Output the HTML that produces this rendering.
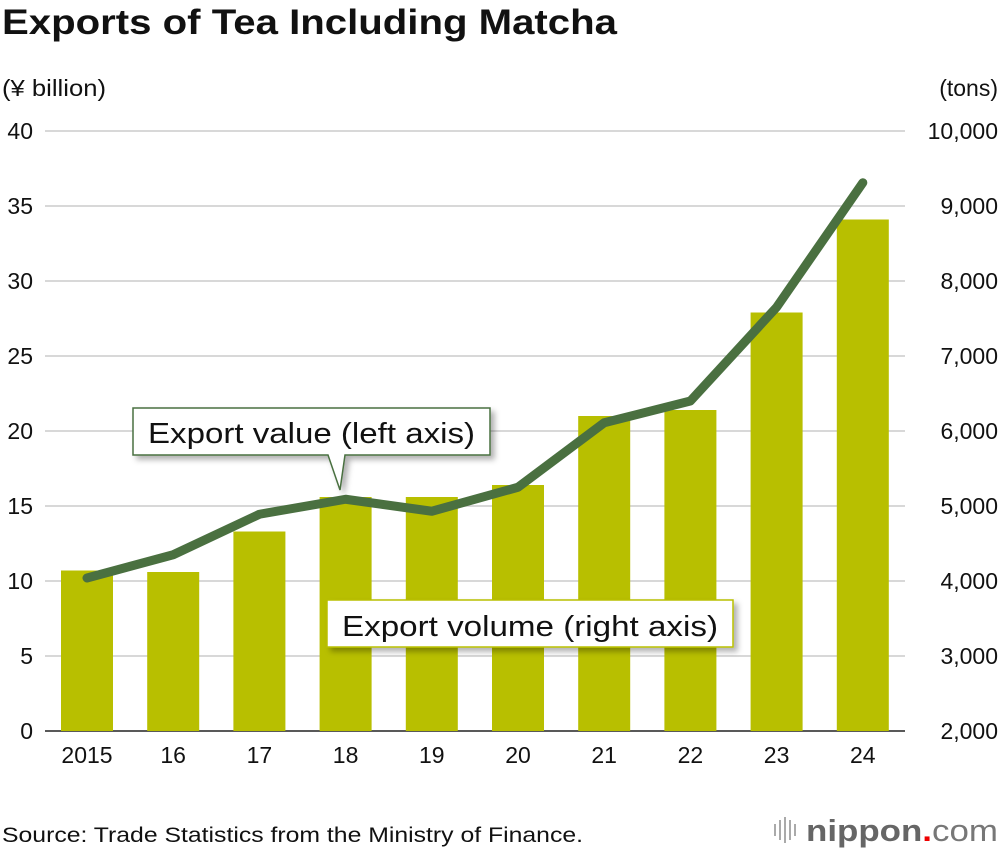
<!DOCTYPE html>
<html><head><meta charset="utf-8"><style>
body{margin:0;background:#fff;width:1000px;height:854px;overflow:hidden;font-family:"Liberation Sans",Arial,sans-serif}
</style></head><body>
<svg id="chart" width="1000" height="854" viewBox="0 0 1000 854" xmlns="http://www.w3.org/2000/svg" font-family="Liberation Sans, Arial, sans-serif">
<defs><filter id="sh" x="-10%" y="-20%" width="130%" height="160%"><feDropShadow dx="4" dy="4" stdDeviation="3" flood-color="#000" flood-opacity="0.3"/></filter></defs>
<text x="2" y="34" font-size="35" font-weight="bold" fill="#111" textLength="615" lengthAdjust="spacingAndGlyphs">Exports of Tea Including Matcha</text>
<text x="2" y="96" font-size="23" fill="#111" textLength="104" lengthAdjust="spacingAndGlyphs">(¥ billion)</text>
<text x="998" y="96" font-size="23" fill="#111" text-anchor="end">(tons)</text>
<g id="grid"></g><g id="bars"></g><g id="line"></g><g id="axes"></g>
<g>
<path d="M133 408 H490 V455 H345 L340 490 L328 455 H133 Z" fill="#fff" stroke="#4a7040" stroke-width="1.5" filter="url(#sh)"/>
<text x="148" y="443" font-size="29" fill="#111" textLength="327" lengthAdjust="spacingAndGlyphs">Export value (left axis)</text>
</g>
<g>
<rect x="327" y="600" width="406" height="47" fill="#fff" stroke="#b8bf00" stroke-width="1.5" filter="url(#sh)"/>
<text x="342" y="636" font-size="29" fill="#111" textLength="376" lengthAdjust="spacingAndGlyphs">Export volume (right axis)</text>
</g>
<text x="2" y="842" font-size="21" fill="#111" textLength="581" lengthAdjust="spacingAndGlyphs">Source: Trade Statistics from the Ministry of Finance.</text>
<g>
<g stroke="#aaa" stroke-width="2"><line x1="775" y1="824" x2="775" y2="836"/><line x1="780" y1="820" x2="780" y2="840"/><line x1="785" y1="817" x2="785" y2="843"/><line x1="790" y1="820" x2="790" y2="840"/><line x1="795" y1="824" x2="795" y2="836"/></g>
<text x="806" y="841" font-size="31" font-weight="bold" fill="#666" textLength="192" lengthAdjust="spacingAndGlyphs">nippon<tspan fill="#e00">.</tspan><tspan font-weight="normal" fill="#777">com</tspan></text>
</g>
</svg>
<script>
const categories=["2015","16","17","18","19","20","21","22","23","24"];
const exportValue=[10.7,10.6,13.3,15.6,15.6,16.4,21.0,21.4,27.9,34.1];
const exportVolume=[4040,4350,4890,5090,4930,5250,6110,6400,7650,9310];
const leftTicks=[0,5,10,15,20,25,30,35,40];
const rightTicks=["2,000","3,000","4,000","5,000","6,000","7,000","8,000","9,000","10,000"];
const NS="http://www.w3.org/2000/svg";
const y0=731,y1=131;
const yL=v=>y0-(v/40)*(y0-y1);
const yR=v=>y0-((v-2000)/8000)*(y0-y1);
const xC=i=>87+i*86.2;
function mk(tag,attrs,parent,txt){const e=document.createElementNS(NS,tag);for(const k in attrs)e.setAttribute(k,attrs[k]);if(txt!==undefined)e.textContent=txt;parent.appendChild(e);return e;}
const grid=document.getElementById('grid'),axes=document.getElementById('axes'),bars=document.getElementById('bars'),line=document.getElementById('line');
leftTicks.forEach((t,i)=>{
  const y=yL(t);
  const g=mk('line',{x1:45,x2:905,y1:y,y2:y,stroke:i===0?'#222':'#ccc','stroke-width':1.5},grid);
  
  
  const l=mk('text',{x:33,y:y+8,'font-size':23,'text-anchor':'end',fill:'#111'},axes,String(t));
  
  
  const r=mk('text',{x:998,y:y+8,'font-size':23,'text-anchor':'end',fill:'#111'},axes,rightTicks[i]);
  
  
});
categories.forEach((c,i)=>{
  const b=mk('rect',{x:xC(i)-26,y:yL(exportValue[i]),width:52,height:y0-yL(exportValue[i]),fill:'#b8bf00'},bars);
  
  
  const t=mk('text',{x:xC(i),y:763,'font-size':23,'text-anchor':'middle',fill:'#111'},axes,c);
  
  
});
const pts=exportVolume.map((v,i)=>xC(i)+','+yR(v)).join(' ');
const pl=mk('polyline',{points:pts,fill:'none',stroke:'#4a7040','stroke-width':9,'stroke-linecap':'round','stroke-linejoin':'round'},line);


</script>
</body></html>
